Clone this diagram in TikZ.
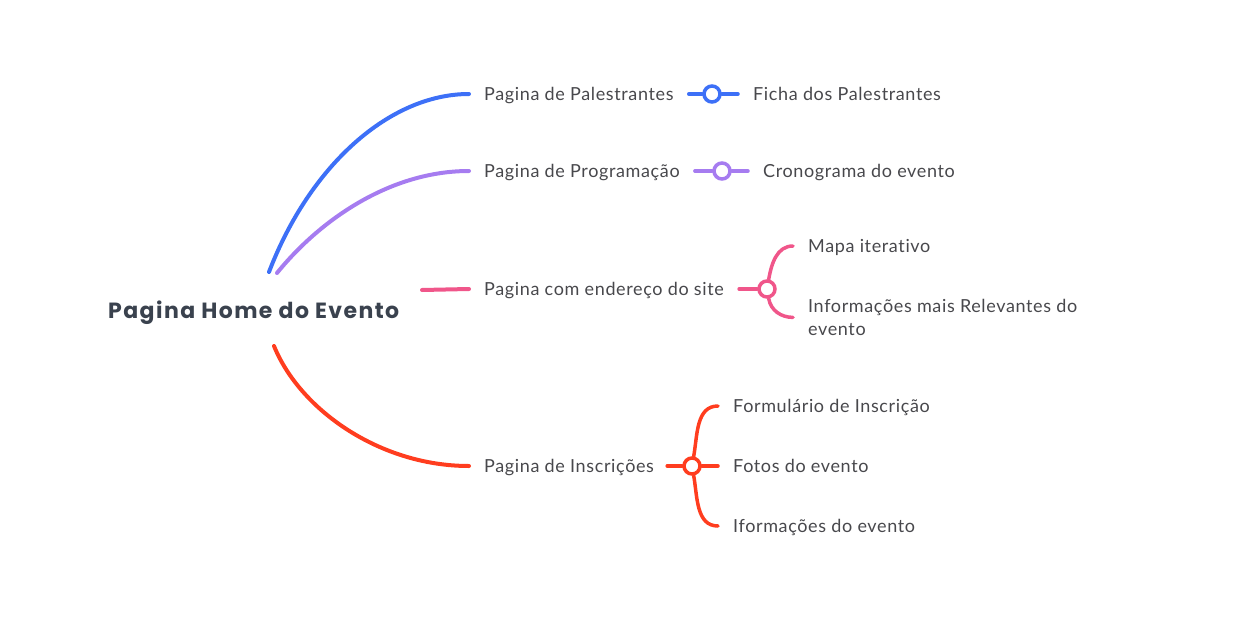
\documentclass[tikz,border=0pt]{standalone}
\usepackage{fontspec}
\setmainfont{Lato}[LetterSpace=3.5, Ligatures=NoCommon]
\newfontfamily\raizfont{Poppins}[LetterSpace=6.5]
\usetikzlibrary{positioning}
\definecolor{azul}{RGB}{61,112,247}
\definecolor{roxo}{RGB}{166,124,240}
\definecolor{rosa}{RGB}{240,86,138}
\definecolor{verm}{RGB}{255,61,31}
\definecolor{raiz}{RGB}{58,66,78}
\definecolor{texto}{RGB}{72,72,76}
\tikzstyle{ramo}=[line width=4pt, line cap=round]
\tikzstyle{galho}=[line width=3.5pt, line cap=round]
\tikzstyle{topico}=[anchor=west, inner sep=0pt, text=texto, text height=12pt, text depth=0pt, font=\fontsize{18}{23}\selectfont]
\tikzstyle{no}=[circle, draw, fill=white, line width=3.5pt, minimum size=16pt, inner sep=0pt]

\begin{document}
\begin{tikzpicture}[x=1pt,y=-1pt]
\useasboundingbox (0,0) rectangle (1233,634);
\node[anchor=base west, inner sep=0pt, text=raiz, font=\raizfont\bfseries\fontsize{22}{26}\selectfont] (home) at (108,318) {Pagina Home do Evento};
\coordinate (hb) at (269,272);
\coordinate (hp) at (277,273);
\coordinate (hr) at (422,290);
\coordinate (hv) at (274,346);
% topicos
\node[topico] (pal) at (484,94) {Pagina de Palestrantes};
\node[topico] (prog) at (484,171) {Pagina de Programação};
\node[topico] (ender) at (484,289) {Pagina com endereço do site};
\node[topico] (insc) at (484,466) {Pagina de Inscrições};
% subtopicos
\node[topico] (ficha) at (753,94) {Ficha dos Palestrantes};
\node[topico] (crono) at (763,171) {Cronograma do evento};
\node[topico] (mapa) at (808,246) {Mapa iterativo};
\node[anchor=north west, inner sep=0pt, text=texto, align=left, font=\fontsize{18}{23}\selectfont] (info) at (808,299) {Informações mais Relevantes do\\evento};
\node[topico] (form) at (733,406) {Formulário de Inscrição};
\node[topico] (fotos) at (733,466) {Fotos do evento};
\node[topico] (iform) at (733,526) {Iformações do evento};
% bolinhas
\node[no, draw=azul] (c1) at (712,94) {};
\node[no, draw=roxo] (c2) at (722,171) {};
\node[no, draw=rosa] (c3) at (767,289) {};
\node[no, draw=verm] (c4) at (692,466) {};
% ramos principais
\draw[ramo,azul] (hb) .. controls (310,165) and (390,94) .. ([xshift=-15pt]pal.west);
\draw[ramo,roxo] (hp) .. controls (320,220) and (390,171) .. ([xshift=-15pt]prog.west);
\draw[ramo,rosa] (hr) -- ([xshift=-15pt]ender.west);
\draw[ramo,verm] (hv) .. controls (300,410) and (380,466) .. ([xshift=-15pt]insc.west);
% galhos
\draw[galho,azul] ([xshift=15pt]pal.east) -- (c1) -- ([xshift=-15pt]ficha.west);
\draw[galho,roxo] ([xshift=15pt]prog.east) -- (c2) -- ([xshift=-15pt]crono.west);
\draw[galho,rosa] ([xshift=15pt]ender.east) -- (c3);
\foreach \f/\a in {mapa/80,info/-80}
\draw[galho,rosa] (c3) to[out=\a,in=180] ([xshift=-15pt]\f.west);
\draw[galho,verm] ([xshift=13pt]insc.east) -- (c4) -- ([xshift=-15pt]fotos.west);
\foreach \f/\a in {form/80,iform/-80}
\draw[galho,verm] (c4) to[out=\a,in=180] ([xshift=-15pt]\f.west);
\end{tikzpicture}
\end{document}
